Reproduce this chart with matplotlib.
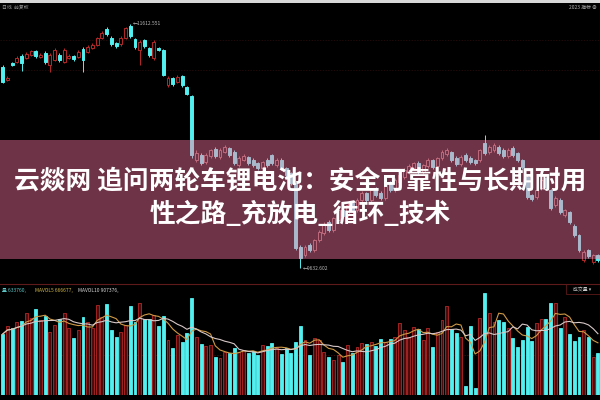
import numpy as np
import pandas as pd
import matplotlib
matplotlib.use("Agg")
import matplotlib.pyplot as plt
from matplotlib.patches import Rectangle
from matplotlib.lines import Line2D

plt.rcParams['font.family'] = ['Noto Sans CJK SC', 'DejaVu Sans']

# Title overlay
title_lines = ["云燚网 追问两轮车锂电池：安全可靠性与长期耐用",
               "性之路_充放电_循环_技术"]

# Daily candles
opens = [11263, 11158, 11296, 11304, 11353, 11336, 11361, 11393, 11344, 11377,
         11280, 11320, 11361, 11304, 11336, 11353, 11344, 11409, 11385, 11418,
         11442, 11499, 11572, 11499, 11458, 11450, 11499, 11596, 11491, 11401,
         11482, 11418, 11336, 11418, 11401, 11117, 11174, 11142, 11190, 11101,
         11028, 10509, 10549, 10492, 10541, 10598, 10533, 10573, 10606, 10573,
         10468, 10509, 10533, 10509, 10484, 10444, 10509, 10549, 10468, 10509,
         10444, 10403, 10322, 9803, 9738, 9819, 9778, 9859, 9916, 10005,
         9940, 10022, 10103, 10062, 10160, 10103, 10184, 10241, 10184, 10281,
         10241, 10200, 10322, 10265, 10330, 10371, 10411, 10444, 10484, 10411,
         10460, 10509, 10460, 10525, 10557, 10573, 10525, 10476, 10549, 10525,
         10509, 10509, 10647, 10573, 10590, 10614, 10590, 10541, 10606, 10565,
         10509, 10371, 10225, 10208, 10281, 10362, 10265, 10143, 10184, 10062,
         10087, 9973, 9900, 9697, 9778, 9681, 9738]
closes = [11142, 11174, 11280, 11336, 11296, 11369, 11393, 11353, 11361, 11304,
          11361, 11401, 11320, 11401, 11353, 11328, 11385, 11320, 11426, 11442,
          11499, 11539, 11531, 11450, 11434, 11499, 11580, 11515, 11426, 11466,
          11434, 11361, 11466, 11401, 11198, 11174, 11125, 11182, 11117, 11044,
          10549, 10565, 10484, 10549, 10590, 10541, 10590, 10614, 10549, 10484,
          10525, 10541, 10484, 10468, 10444, 10492, 10468, 10484, 10509, 10444,
          10387, 10322, 9794, 9713, 9803, 9778, 9859, 9924, 9989, 9940,
          10038, 10103, 10054, 10143, 10103, 10184, 10241, 10184, 10265, 10225,
          10200, 10306, 10265, 10346, 10387, 10427, 10460, 10484, 10411, 10468,
          10509, 10452, 10525, 10573, 10590, 10509, 10476, 10533, 10509, 10492,
          10484, 10590, 10565, 10614, 10630, 10565, 10541, 10590, 10549, 10509,
          10452, 10208, 10192, 10265, 10346, 10289, 10119, 10200, 10087, 10103,
          10005, 9900, 9778, 9762, 9730, 9738, 9697]
highs = [11280, 11190, 11304, 11350, 11369, 11385, 11405, 11401, 11377, 11393,
         11377, 11418, 11377, 11418, 11369, 11361, 11401, 11426, 11440, 11458,
         11510, 11556, 11588, 11515, 11466, 11515, 11590, 11612, 11499, 11482,
         11491, 11426, 11482, 11426, 11409, 11190, 11182, 11198, 11198, 11109,
         11036, 10590, 10565, 10565, 10598, 10614, 10606, 10630, 10614, 10590,
         10541, 10557, 10541, 10525, 10492, 10500, 10525, 10557, 10525, 10525,
         10452, 10411, 10330, 9819, 9819, 9835, 9870, 9940, 10005, 10022,
         10046, 10119, 10111, 10160, 10168, 10200, 10257, 10249, 10281, 10290,
         10257, 10322, 10338, 10362, 10395, 10444, 10476, 10492, 10500, 10476,
         10525, 10517, 10533, 10590, 10606, 10582, 10541, 10549, 10565, 10541,
         10517, 10598, 10711, 10630, 10647, 10630, 10606, 10606, 10622, 10573,
         10517, 10387, 10233, 10273, 10354, 10371, 10273, 10216, 10200, 10111,
         10095, 9989, 9908, 9778, 9786, 9746, 9746]
lows = [11133, 11150, 11272, 11296, 11231, 11328, 11353, 11336, 11336, 11288,
        11223, 11312, 11304, 11296, 11328, 11312, 11336, 11223, 11377, 11409,
        11434, 11491, 11515, 11434, 11418, 11434, 11491, 11499, 11409, 11280,
        11418, 11344, 11320, 11393, 11190, 11101, 11109, 11133, 11101, 11036,
        10525, 10492, 10468, 10476, 10525, 10525, 10517, 10565, 10533, 10468,
        10452, 10500, 10468, 10452, 10427, 10436, 10452, 10468, 10452, 10427,
        10371, 10306, 9778, 9632, 9722, 9762, 9762, 9843, 9900, 9924,
        9924, 10005, 10038, 10046, 10087, 10087, 10168, 10168, 10168, 10208,
        10184, 10184, 10249, 10249, 10314, 10354, 10395, 10427, 10395, 10395,
        10444, 10436, 10444, 10509, 10541, 10492, 10460, 10460, 10492, 10476,
        10468, 10492, 10549, 10557, 10573, 10549, 10525, 10525, 10533, 10492,
        10436, 10192, 10176, 10192, 10265, 10273, 10103, 10127, 10071, 10046,
        9989, 9884, 9762, 9681, 9713, 9665, 9681]
volumes = [610000, 690000, 670000, 730000, 740000, 820000, 770000, 860000, 750000, 790000,
           630000, 700000, 760000, 820000, 670000, 570000, 650000, 780000, 730000, 670000,
           900000, 780000, 910000, 650000, 580000, 630000, 700000, 890000, 730000, 920000,
           760000, 760000, 800000, 690000, 790000, 550000, 470000, 600000, 530000, 620000,
           970000, 580000, 510000, 490000, 500000, 380000, 370000, 430000, 420000, 470000,
           430000, 450000, 420000, 440000, 400000, 500000, 490000, 520000, 470000, 410000,
           470000, 420000, 530000, 690000, 550000, 400000, 570000, 550000, 430000, 380000,
           350000, 400000, 330000, 500000, 420000, 480000, 520000, 510000, 530000, 490000,
           560000, 530000, 560000, 580000, 720000, 650000, 580000, 680000, 660000, 550000,
           670000, 480000, 630000, 750000, 890000, 660000, 620000, 580000, 90000, 690000,
           70000, 770000, 1020000, 820000, 730000, 750000, 730000, 670000, 570000, 480000,
           550000, 680000, 540000, 720000, 760000, 760000, 920000, 920000, 670000, 780000,
           610000, 540000, 580000, 650000, 580000, 380000, 420000]

high_label = "11612.551"
low_label = "9632.602"
legend_parts = ["量 633760,", "MAVOL5 666677,", "MAVOL10 907376,"]
legend_colors = ["#5ec8c8", "#d2b848", "#d8d8d8"]
legend_x = [2, 35, 78]          # pixel positions in the screenshot
grid_prices = [11482, 11239]

UP = "#b42828"
DOWN = "#52f0f0"
UP_PALE = "#c06a7c"
DOWN_PALE = "#aab8cc"

idx = np.arange(len(opens))
o = np.array(opens)
c = np.array(closes)
up = c >= o
body_lo = np.minimum(o, c)
body_h = np.maximum(np.abs(c - o), 8)

fig = plt.figure(figsize=(6, 4), dpi=100, facecolor="black")

# candle panel
ax = fig.add_axes([0, 118 / 400, 1, 277 / 400], facecolor="black")
ax.set_xlim(-0.57, 126.44)
ax.set_ylim(9519, 11766)
ax.axis("off")
for g in grid_prices:
    ax.axhline(g, color="#2e0e0e", lw=0.5, ls=(0, (2, 2)), zorder=0)


def draw_candles(a, up_col, down_col, clip=None, z=2):
    cols = [up_col if u else down_col for u in up]
    wk = a.vlines(idx, lows, highs, colors=cols, lw=0.7, zorder=z)
    face = ["black" if (u and clip is None) else (col if not u else "#6e3347")
            for u, col in zip(up, cols)]
    bars = a.bar(idx, body_h, bottom=body_lo, width=0.62, color=face,
                 edgecolor=cols, linewidth=0.7, zorder=z + 0.5)
    if clip is not None:
        wk.set_clip_path(clip)
        for b in bars:
            b.set_clip_path(clip)


draw_candles(ax, UP, DOWN)

ax.text(27 + 0.5, highs[27], "←" + high_label, fontsize=3.5, color="#bbbbbb",
        va="center", ha="left")
ax.text(63 + 0.5, lows[63], "←" + low_label, fontsize=3.5, color="#bbbbbb",
        va="center", ha="left")

# title band over the candles
band = Rectangle((0, 23 / 277), 1, 119 / 277, transform=ax.transAxes,
                 facecolor="#6f3347", edgecolor="none", zorder=5)
ax.add_patch(band)
draw_candles(ax, UP_PALE, DOWN_PALE, clip=band, z=6)

# volume panel
ax2 = fig.add_axes([0, 5 / 400, 1, 105 / 400], facecolor="black")
ax2.set_xlim(-0.57, 126.44)
ax2.set_ylim(0, 1050000)
ax2.axis("off")
vcols = [UP if u else DOWN for u in up]
vface = ["#4a0c0c" if u else DOWN for u in up]
ax2.bar(idx, volumes, width=0.62, color=vface, edgecolor=vcols, linewidth=0.6)
vol = pd.Series(volumes)
ax2.plot(idx, vol.rolling(5, min_periods=1).mean(), color="#cf9a45", lw=0.8)
ax2.plot(idx, vol.rolling(10, min_periods=1).mean(), color="#d8c8c8", lw=0.8)
ax2.axhline(400000, color="#4a1212", lw=0.5, ls=(0, (2, 2)), zorder=0)

# legend row of the volume panel
for txt, col, px in zip(legend_parts, legend_colors, legend_x):
    fig.text(px / 600, 1 - 290 / 400, txt, fontsize=3.5, color=col, va="center")

fig.add_artist(Line2D([0, 1], [1 - 284 / 400] * 2, color="#5e1a1a", lw=0.8))
fig.add_artist(Rectangle((566 / 600, 1 - 294 / 400), 34 / 600, 10 / 400,
                         transform=fig.transFigure, facecolor="none",
                         edgecolor="#5e1a1a", lw=0.6))
fig.text(582 / 600, 1 - 289 / 400, "成交量 ▾", fontsize=3.5, color="#c8c8c8",
         ha="center", va="center")

# top strip and header text
fig.add_artist(Rectangle((0, 1 - 3 / 400), 1, 3 / 400, transform=fig.transFigure,
                         facecolor="#d8d8d8", edgecolor="none"))
fig.text(0.004, 1 - 7 / 400, "日线  前复权", fontsize=3.5, color="#9a9a9a", va="center")
fig.text(0.995, 1 - 7 / 400, "2023 指标 ⊕", fontsize=3.5, color="#bbbbbb",
         va="center", ha="right")

# headline
fig.text(0.5, 1 - 181 / 400, title_lines[0], fontsize=18.5, fontweight="bold",
         color="white", ha="center", va="center", zorder=10)
fig.text(0.5, 1 - 215 / 400, title_lines[1], fontsize=18.5, fontweight="bold",
         color="white", ha="center", va="center", zorder=10)

fig.savefig("out.png", dpi=100, facecolor="black")
